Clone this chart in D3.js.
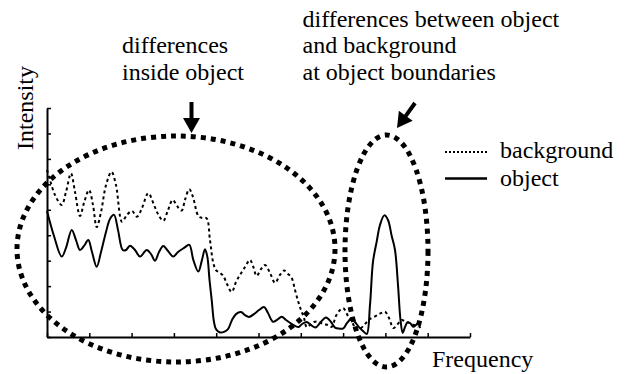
<!DOCTYPE html>
<html>
<head>
<meta charset="utf-8">
<script src="https://cdn.jsdelivr.net/npm/d3@7"></script>
</head>
<body style="margin:0">
<svg id="s" width="628" height="374"></svg>
<script>
// ---- data (frequency in arbitrary units 0-100, intensity 0-90) ----
const xTicks = [0, 10, 20, 30, 40, 50, 60, 70, 80, 90, 100];
const yTicks = [0, 10, 20, 30, 40, 50, 60, 70, 80, 90];

const objectFreq = [0, 1.65, 3.48, 4.49, 5.84, 6.86, 7.8, 8.75, 9.76, 10.64, 11.75, 12.77, 13.95, 14.89, 15.84, 16.78, 17.9, 18.68, 19.62, 20.8, 21.99, 23.57, 24.59, 25.53, 26.48, 27.49, 28.61, 29.86, 30.97, 32.39, 33.64, 34.59, 35.77, 36.64, 37.35, 37.9, 38.42, 38.94, 39.48, 39.95, 40.9, 41.84, 42.79, 43.74, 44.68, 45.86, 46.81, 47.75, 48.94, 50.12, 51.3, 52.25, 53.43, 54.37, 55.48, 56.5, 57.92, 59.46, 60.28, 61.39, 62.41, 63.48, 64.54, 65.96, 67.14, 68.09, 69.03, 70.05, 70.92, 72.03, 72.81, 73.76, 74.7, 75.58, 76.36, 77.07, 77.94, 78.72, 79.74, 80.61, 81.49, 82.27, 82.98, 83.57, 84.09, 84.63, 85.18, 85.82, 86.6, 87.23, 87.78, 88.18];
const objectIntensity = [49.5, 39.7, 31.6, 35.0, 42.1, 38.1, 34.2, 35.8, 38.1, 33.4, 27.6, 33.4, 41.3, 46.4, 48.0, 42.1, 34.2, 34.2, 35.9, 34.2, 31.6, 34.2, 32.6, 30.0, 33.4, 35.8, 33.8, 31.6, 33.4, 35.0, 36.2, 30.3, 25.7, 30.3, 34.5, 31.6, 22.4, 14.5, 5.9, 3.1, 1.8, 2.0, 3.1, 6.7, 9.0, 9.8, 8.6, 7.9, 9.0, 10.6, 11.8, 9.4, 6.0, 6.7, 8.0, 6.7, 5.1, 3.9, 5.1, 5.9, 4.7, 3.7, 5.5, 7.7, 5.9, 3.7, 3.3, 3.4, 5.5, 7.3, 5.9, 3.9, 2.4, 1.2, 12.6, 29.6, 37.5, 44.0, 47.8, 46.0, 39.7, 34.2, 20.4, 6.7, 1.6, 3.9, 5.7, 5.5, 4.0, 4.7, 5.3, 3.5];

const backgroundFreq = [0, 0.71, 1.89, 3.48, 4.49, 5.67, 6.62, 7.8, 8.75, 9.93, 10.87, 11.75, 12.77, 13.95, 15.25, 16.31, 17.73, 18.91, 20.09, 21.28, 22.46, 23.95, 25.3, 26.24, 27.49, 28.61, 29.72, 30.73, 31.84, 32.62, 33.64, 34.52, 35.77, 36.64, 37.71, 38.53, 39.31, 39.95, 40.9, 41.68, 42.55, 43.66, 44.68, 45.63, 46.81, 47.99, 48.7, 49.57, 50.59, 51.54, 52.72, 53.9, 55.08, 56.03, 56.97, 57.8, 58.63, 59.41, 60.05, 60.76, 61.39, 62.17, 63.12, 64.14, 65.25, 66.43, 67.3, 68.32, 69.27, 70.05, 71.23, 72.1, 73.21, 74.23, 75.41, 76.36, 77.78, 78.96, 79.91, 80.85, 81.87, 82.74, 83.85, 84.87, 85.82, 86.76, 87.78];
const backgroundIntensity = [65.6, 61.7, 55.8, 51.9, 57.0, 64.3, 57.0, 47.6, 52.7, 57.8, 51.9, 43.2, 49.1, 59.7, 64.9, 59.7, 45.3, 48.0, 49.5, 47.3, 50.7, 56.5, 51.9, 48.3, 45.7, 49.9, 53.9, 51.5, 49.7, 53.9, 58.1, 55.0, 47.6, 46.8, 46.7, 38.1, 29.1, 26.3, 25.2, 24.0, 20.8, 17.7, 21.6, 24.4, 27.5, 30.3, 27.9, 24.0, 26.7, 28.3, 25.2, 21.3, 24.4, 26.1, 24.8, 23.4, 18.5, 13.8, 10.6, 7.5, 3.9, 4.7, 5.9, 6.0, 5.1, 4.7, 4.0, 8.3, 10.6, 11.3, 8.0, 5.9, 2.8, 3.5, 5.5, 7.1, 8.3, 9.4, 9.9, 7.5, 3.5, 4.7, 6.7, 5.9, 5.4, 4.7, 4.0];

const seriesNames = ["background", "object"];
const axisLabels = ["Frequency", "Intensity"];
const noteLeft = ["differences", "inside object"];
const noteRight = ["differences between object", "and background", "at object boundaries"];

// ---- drawing ----
const svg = d3.select("#s");
const x = d3.scaleLinear().domain([0, 100]).range([47, 470]);
const y = d3.scaleLinear().domain([0, 90]).range([337, 108]);

const line = d3.line().x(d => x(d[0])).y(d => y(d[1])).curve(d3.curveCatmullRom.alpha(0.5));

const bgData = backgroundFreq.map((f, i) => [f, backgroundIntensity[i]]);
const objData = objectFreq.map((f, i) => [f, objectIntensity[i]]);

svg.append("path").datum(bgData).attr("d", line)
  .attr("fill", "none").attr("stroke", "#000").attr("stroke-width", 2)
  .attr("stroke-dasharray", "3,3");
svg.append("path").datum(objData).attr("d", line)
  .attr("fill", "none").attr("stroke", "#000").attr("stroke-width", 2);

// axes
const xAxis = d3.axisBottom(x).tickValues(xTicks).tickSizeInner(-4).tickSizeOuter(0).tickFormat("");
const yAxis = d3.axisLeft(y).tickValues(yTicks).tickSizeInner(-4).tickSizeOuter(0).tickFormat("");
const gx = svg.append("g").attr("transform", `translate(0,${y(0)})`).call(xAxis);
const gy = svg.append("g").attr("transform", `translate(${x(0)},0)`).call(yAxis);
[gx, gy].forEach(g => {
  g.select(".domain").attr("stroke", "#000").attr("stroke-width", 2);
  g.selectAll(".tick line").attr("stroke", "#000").attr("stroke-width", 1.5);
  g.selectAll(".tick text").remove();
});

function label(txt) {
  return svg.append("text").attr("font-size", 24).attr("font-family", "Liberation Serif").text(txt);
}

// axis labels
label(axisLabels[0]).attr("x", 432).attr("y", 367);
label(axisLabels[1]).attr("transform", "translate(33,150) rotate(-90)");

// highlight ellipses
svg.append("ellipse").attr("cx", 176).attr("cy", 249).attr("rx", 159).attr("ry", 113)
  .attr("fill", "none").attr("stroke", "#000").attr("stroke-width", 5).attr("stroke-dasharray", "5,5");
svg.append("ellipse").attr("cx", 386.5).attr("cy", 251).attr("rx", 41.5).attr("ry", 116)
  .attr("fill", "none").attr("stroke", "#000").attr("stroke-width", 5).attr("stroke-dasharray", "5,5");

// arrows
function arrow(x1, y1, x2, y2) {
  const dx = x2 - x1, dy = y2 - y1, L = Math.hypot(dx, dy);
  const ux = dx / L, uy = dy / L, px = -uy, py = ux;
  const hl = 15, hw = 8.5, sw = 2;
  const bx = x2 - ux * hl, by = y2 - uy * hl;
  const pts = [
    [x1 + px * sw, y1 + py * sw], [bx + px * sw, by + py * sw], [bx + px * hw, by + py * hw],
    [x2, y2], [bx - px * hw, by - py * hw], [bx - px * sw, by - py * sw], [x1 - px * sw, y1 - py * sw]
  ];
  svg.append("path").attr("d", "M" + pts.map(p => p.join(",")).join("L") + "Z").attr("fill", "#000");
}
arrow(191.5, 102, 191.5, 133);
arrow(415, 103, 397, 128);

// annotation texts
noteLeft.forEach((t, i) => label(t).attr("x", 122).attr("y", 53 + i * 27));
noteRight.forEach((t, i) => label(t).attr("x", 302.5).attr("y", 26.5 + i * 26.8));

// legend
svg.append("line").attr("x1", 445).attr("x2", 487).attr("y1", 152).attr("y2", 152)
  .attr("stroke", "#000").attr("stroke-width", 2).attr("stroke-dasharray", "2,2");
label(seriesNames[0]).attr("x", 500).attr("y", 158);
svg.append("line").attr("x1", 445).attr("x2", 487).attr("y1", 178.5).attr("y2", 178.5)
  .attr("stroke", "#000").attr("stroke-width", 2.5);
label(seriesNames[1]).attr("x", 500).attr("y", 186);
</script>
</body>
</html>
